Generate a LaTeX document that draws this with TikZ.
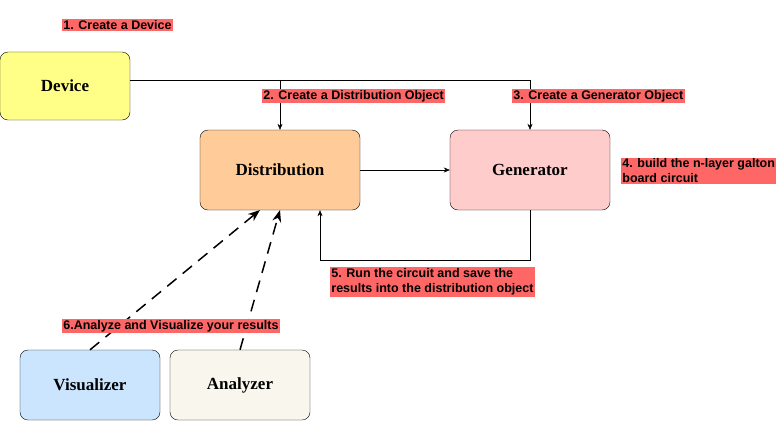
\documentclass[tikz,border=0pt]{standalone}
\usepackage{fontspec}
\setmainfont{Liberation Serif}
\newfontfamily\lab{Liberation Sans}
\usetikzlibrary{arrows.meta}
\definecolor{labred}{HTML}{FF6666}
\begin{document}
\begin{tikzpicture}[x=1pt,y=-1pt,
 box/.style={draw,rounded corners=8pt,minimum width=160pt,minimum height=80pt,font=\bfseries\fontsize{17}{19}\selectfont,inner sep=0pt},
 lbl/.style={fill=labred,font=\lab\bfseries\fontsize{12.5}{15}\selectfont,inner sep=1.2pt,align=left},
 arr/.style={-{Stealth[length=6pt,width=5pt]}},
 dsh/.style={-{Stealth[length=12pt,width=9pt]},line width=1.5pt,dash pattern=on 12pt off 8pt}]
\useasboundingbox (0,0) rectangle (781,421);
\node[box,fill={rgb,255:red,255;green,255;blue,136},minimum width=130pt,minimum height=68pt] (dev) at (65,86) {Device};
\node[box,fill={rgb,255:red,255;green,204;blue,153}] (dist) at (280,170) {Distribution};
\node[box,fill={rgb,255:red,255;green,204;blue,204}] (gen) at (530,170) {Generator};
\node[box,fill={rgb,255:red,204;green,229;blue,255},minimum width=140pt,minimum height=70pt] (vis) at (90,385) {Visualizer};
\node[box,fill={rgb,255:red,249;green,247;blue,237},minimum width=140pt,minimum height=70pt] (ana) at (240,385) {Analyzer};
\coordinate (c1) at (280,80);
\coordinate (c2) at (530,80);
\coordinate (c3) at (530,260);
\coordinate (c4) at (320,260);
\draw (dev.east |- c1) -- (c2);
\draw[arr] (c2) -- (gen.north);
\draw[arr] (c1) -- (dist.north);
\draw[arr] (dist.east) -- (gen.west);
\draw[arr] (gen.south) -- (c3) -- (c4) -- (c4 |- dist.south);
\coordinate (d1) at (260,210);
\coordinate (d2) at (280,210);
\draw[dsh] (vis.north) -- (d1);
\draw[dsh] (ana.north) -- (d2);
\node[lbl,anchor=west] (l1) at (62,25) {1. Create a Device};
\node[lbl,anchor=west] (l2) at (262,96) {2. Create a Distribution Object};
\node[lbl,anchor=west] (l3) at (512,96) {3. Create a Generator Object};
\node[lbl,anchor=west] (l4) at (621,171) {4. build the n-layer galton\\board circuit};
\node[lbl,anchor=west] (l5) at (330,282) {5. Run the circuit and save the\\results into the distribution object};
\node[lbl,anchor=west] (l6) at (62,326) {6.Analyze and Visualize your results};
\end{tikzpicture}
\end{document}
